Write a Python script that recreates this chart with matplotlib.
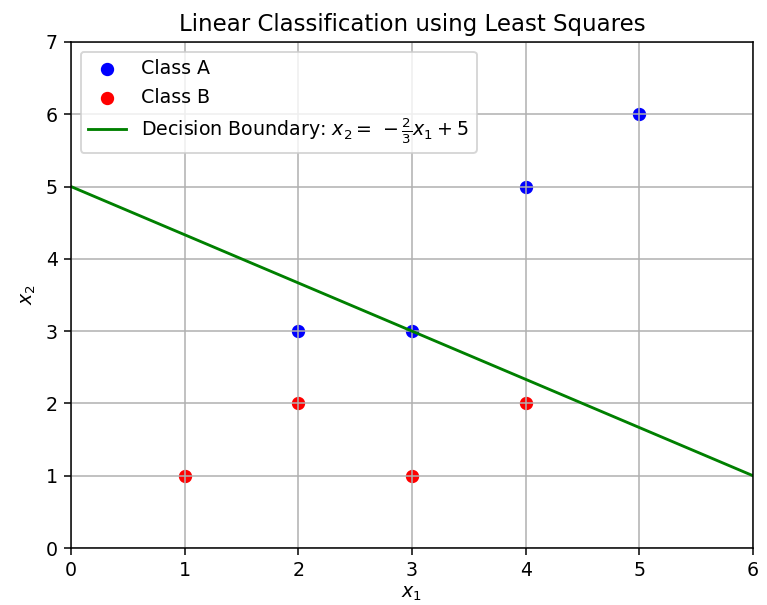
import numpy as np
import matplotlib.pyplot as plt

# class samples
class_a_x1 = [2, 3, 4, 5]
class_a_x2 = [3, 3, 5, 6]
class_b_x1 = [1, 2, 3, 4]
class_b_x2 = [1, 2, 1, 2]

# least squares boundary: x2 = slope * x1 + intercept
slope = -2 / 3
intercept = 5

DPI = 137
fig = plt.figure(figsize=(767 / DPI, 605 / DPI), dpi=DPI)
ax = fig.add_axes([0.0926, 0.0942, 0.8891, 0.8364])

ax.scatter(class_a_x1, class_a_x2, color='blue', label='Class A')
ax.scatter(class_b_x1, class_b_x2, color='red', label='Class B')

x1 = np.linspace(0, 6, 100)
ax.plot(x1, slope * x1 + intercept, color='green',
        label=r'Decision Boundary: $x_2 =\, -\frac{2}{3}x_1 + 5$')

ax.set_xlim(0, 6)
ax.set_ylim(0, 7)
ax.set_xlabel(r'$x_1$', labelpad=2)
ax.set_ylabel(r'$x_2$')
ax.set_title('Linear Classification using Least Squares')
ax.legend(loc='upper left')
ax.grid(True)

fig.savefig('out.png', dpi=DPI)
